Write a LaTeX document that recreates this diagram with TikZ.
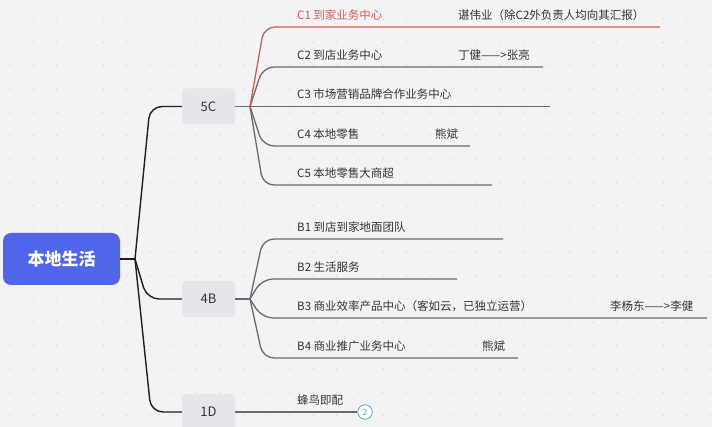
\documentclass[tikz,border=0pt]{standalone}
\usepackage{fontspec}
\setmainfont{Noto Sans CJK SC}
\definecolor{bgc}{HTML}{F3F3F5}
\definecolor{dotc}{HTML}{D2D2D8}
\definecolor{rootblue}{HTML}{5065EA}
\definecolor{boxgrey}{HTML}{E6E6EA}
\definecolor{textc}{HTML}{333333}
\definecolor{trunkc}{HTML}{1E1E1E}
\definecolor{twigc}{HTML}{6A6A6E}
\definecolor{redc}{HTML}{D65A50}
\definecolor{badgec}{HTML}{5AA0DC}
\begin{document}
\begin{tikzpicture}[x=1pt,y=-1pt,
  rootbox/.style={fill=rootblue, rounded corners=8pt, text=white, font=\fontsize{17}{20}\selectfont\bfseries, minimum width=117pt, minimum height=52pt, inner sep=0pt},
  midbox/.style={fill=boxgrey, rounded corners=4pt, minimum width=53pt, minimum height=36pt, font=\fontsize{13}{15}\selectfont, text=textc, inner sep=0pt},
  leaf/.style={anchor=west, inner sep=0pt, font=\fontsize{11.5}{13}\selectfont, text=textc},
  trunk/.style={line width=1.4pt, draw=trunkc, rounded corners=12pt},
  twig/.style={line width=1.3pt, draw=twigc, rounded corners=11pt},
  badge/.style={circle, draw=badgec, line width=0.8pt, fill=white, minimum size=14.5pt, inner sep=0pt, text=badgec, font=\fontsize{8.5}{9}\selectfont}
]
\fill[bgc] (0,0) rectangle (712,427);
\clip (0,0) rectangle (712,427);
\foreach \i in {0,...,30}{
  \foreach \j in {0,...,18}{
    \fill[dotc] ({10+\i*23.33},{19+\j*23.33}) circle (0.75pt);
  }
}
% main nodes
\node[rootbox] (root) at (61.5,259) {本地生活};
\node[midbox] (c5) at (208.5,106.5) {5C};
\node[midbox] (b4) at (208.5,299) {4B};
\node[midbox] (d1) at (208.5,412) {1D};
% junctions
\coordinate (jr) at (135,259);
\coordinate (jc) at (250,106.5);
\coordinate (jb) at (250,299);
% trunks
\draw[trunk] (root.east) -- (jr);
\draw[trunk] (jr) -- (150,106.5) -- (c5.west);
\draw[trunk] (jr) -- (147,299) -- (b4.west);
\draw[trunk] (jr) -- (151,412) -- (d1.west);
\draw[twig] (c5.east) -- (jc);
\draw[twig] (b4.east) -- (jb);
% line ends
\coordinate (ec1) at (660,27);
\coordinate (ec2) at (543,67);
\coordinate (ec3) at (550,106.5);
\coordinate (ec4) at (470,146);
\coordinate (ec5) at (492,185);
\coordinate (eb1) at (503,239);
\coordinate (eb2) at (457,279);
\coordinate (eb3) at (707,318);
\coordinate (eb4) at (518,358);
% 5C branches
\draw[twig] (jc) -- (263,67) -- (ec2);
\draw[twig] (jc) -- (ec3);
\draw[twig] (jc) -- (263,146) -- (ec4);
\draw[twig] (jc) -- (263,185) -- (ec5);
\draw[twig, draw=redc] (jc) -- (264,27) -- (ec1);
% 4B branches
\draw[twig] (jb) -- (263,239) -- (eb1);
\draw[twig] (jb) -- (262,279) -- (eb2);
\draw[twig] (jb) -- (262,318) -- (eb3);
\draw[twig] (jb) -- (263,358) -- (eb4);
% 1D branch
\node[badge] (bd) at (365,412) {2};
\draw[twig] (d1.east) -- (bd.west);
% labels
\node[leaf, text=redc] (tc1) at (297,15) {C1 到家业务中心};
\node[leaf] (pc1) at (458,15) {谌伟业（除C2外负责人均向其汇报）};
\node[leaf] (tc2) at (297,55) {C2 到店业务中心};
\node[leaf] (pc2) at (458,55) {丁健——>张亮};
\node[leaf] (tc3) at (297,94) {C3 市场营销品牌合作业务中心};
\node[leaf] (tc4) at (297,134) {C4 本地零售};
\node[leaf] (pc4) at (435,134) {熊斌};
\node[leaf] (tc5) at (297,173) {C5 本地零售大商超};
\node[leaf] (tb1) at (297,227) {B1 到店到家地面团队};
\node[leaf] (tb2) at (297,267) {B2 生活服务};
\node[leaf] (tb3) at (297,306) {B3 商业效率产品中心（客如云，已独立运营）};
\node[leaf] (pb3) at (610,306) {李杨东——>李健};
\node[leaf] (tb4) at (297,346) {B4 商业推广业务中心};
\node[leaf] (pb4) at (482,346) {熊斌};
\node[leaf] (td1) at (297,400) {蜂鸟即配};
\end{tikzpicture}
\end{document}
